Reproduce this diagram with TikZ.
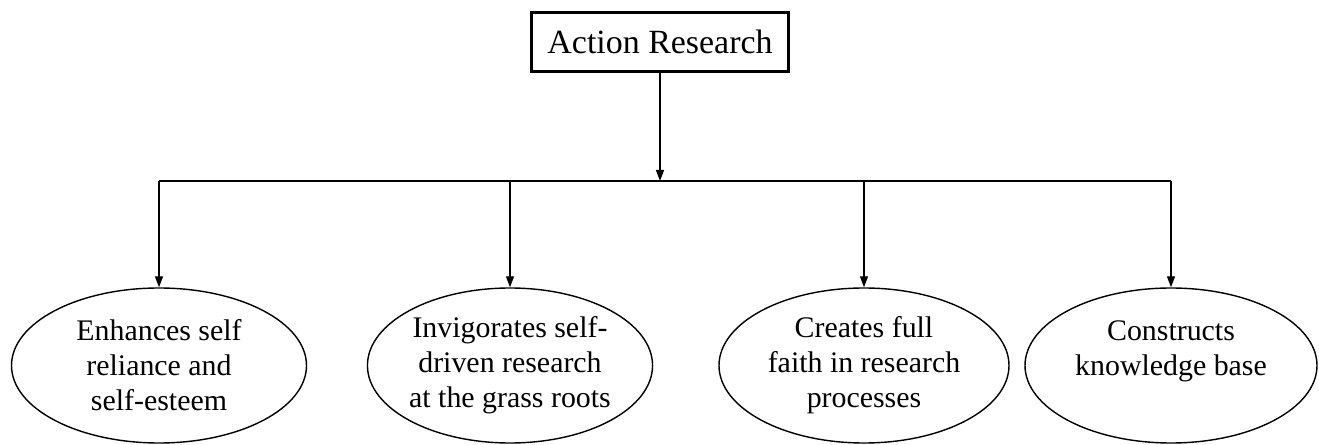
\documentclass[tikz,border=0pt]{standalone}
\usepackage{fontspec}
\setmainfont{Liberation Serif}
\usetikzlibrary{arrows.meta, shapes.geometric}

\begin{document}
\begin{tikzpicture}[>={Triangle[length=2.2mm,width=1.6mm]},
  topbox/.style={draw, line width=1.5pt, minimum width=5.14cm, minimum height=1.18cm, inner sep=0pt, font=\fontsize{19.3}{22}\selectfont},
  effect/.style={draw, ellipse, line width=0.8pt, minimum width=5.9cm, minimum height=3.1cm, inner sep=0pt, align=center, font=\fontsize{17}{19.9}\selectfont}]
  \useasboundingbox (0,0) rectangle (26.38,-8.9);
  \node[topbox] (ar) at (13.2,-0.84) {Action Research};
  \coordinate (bar) at (13.2,-3.62);
  \node[effect] (e1) at (3.18,-7.31) {Enhances self\\reliance and\\self-esteem};
  \node[effect, minimum width=5.6cm] (e2) at (10.2,-7.31) {Invigorates self-\\driven research\\at the grass roots};
  \node[effect, minimum width=5.8cm] (e3) at (17.28,-7.31) {Creates full\\faith in research\\processes};
  \node[effect, minimum width=5.84cm] (e4) at (23.42,-7.31) {Constructs\\knowledge base\\\mbox{}};
  \draw[->, line width=0.8pt] (ar) -- (bar);
  \draw[line width=0.8pt] (e1 |- bar) -- (e4 |- bar);
  \draw[->, line width=0.8pt] (e1 |- bar) -- (e1.north);
  \draw[->, line width=0.8pt] (e2 |- bar) -- (e2.north);
  \draw[->, line width=0.8pt] (e3 |- bar) -- (e3.north);
  \draw[->, line width=0.8pt] (e4 |- bar) -- (e4.north);
\end{tikzpicture}
\end{document}
